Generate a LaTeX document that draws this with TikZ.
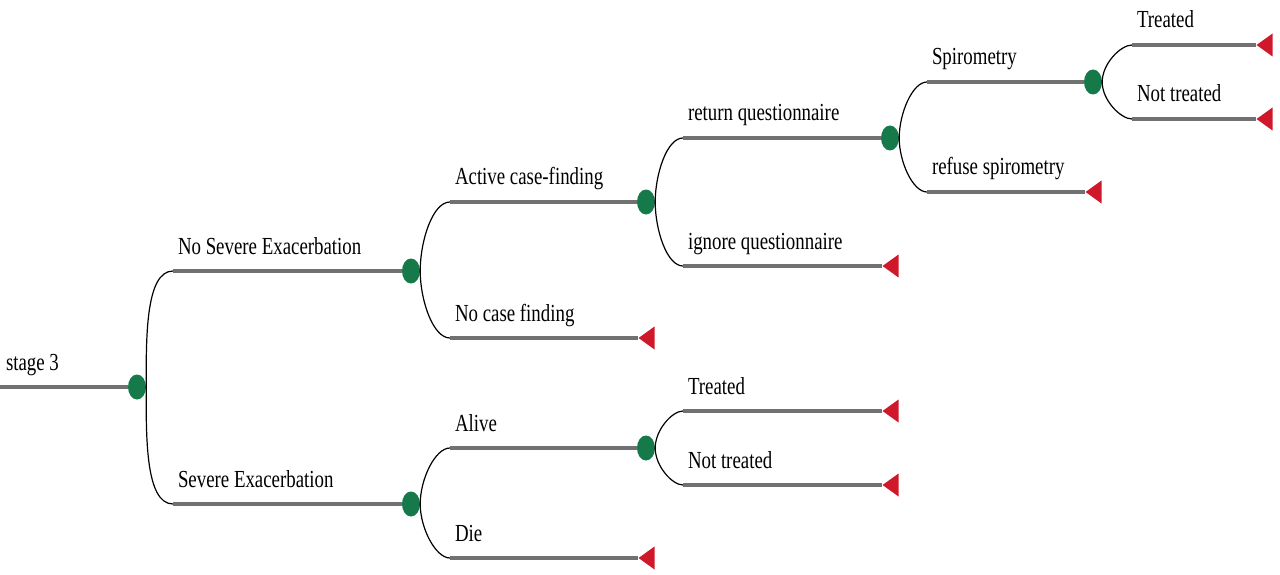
\documentclass[tikz,border=0pt]{standalone}
\usepackage{fontspec}
\setmainfont[FakeStretch=0.77]{Liberation Serif}
\usepackage{xcolor}
\definecolor{colorChance}{HTML}{15794A}
\definecolor{colorTerminal}{HTML}{D0182B}
\definecolor{colorBranch}{HTML}{717171}
\usetikzlibrary{shapes.geometric}
\tikzset{
  chance/.style={ellipse, fill=colorChance, minimum width=18pt, minimum height=25pt, inner sep=0pt},
  terminal/.style={isosceles triangle, isosceles triangle stretches, shape border rotate=180, fill=colorTerminal, minimum width=23pt, minimum height=16pt, inner sep=0pt, anchor=apex},
  branch/.style={draw=colorBranch, line width=4pt},
  split/.style={draw=black, line width=1.2pt},
  lbl/.style={pos=0, anchor=base west, xshift=3pt, yshift=17pt, font=\fontsize{24.5}{27}\selectfont, inner sep=0pt}
}

\begin{document}
\begin{tikzpicture}[x=1pt, y=1pt]
\useasboundingbox (0,0) rectangle (1280,-575);
\coordinate (in0) at (0,-387);
\node[chance] (c0) at (137,-387) {};
\node[chance] (c1) at (411,-271) {};
\node[chance] (c2) at (411,-504) {};
\node[chance] (c3) at (646,-202) {};
\node[chance] (c5) at (646,-448) {};
\node[chance] (c7) at (890,-138) {};
\node[chance] (c11) at (1093,-82) {};
\coordinate (s1) at (173,-271);
\coordinate (s2) at (173,-504);
\coordinate (s3) at (450,-202);
\coordinate (s4) at (450,-338);
\coordinate (s5) at (450,-448);
\coordinate (s6) at (450,-558);
\coordinate (s7) at (683,-138);
\coordinate (s8) at (683,-266);
\coordinate (s9) at (683,-411);
\coordinate (s10) at (683,-485);
\coordinate (s11) at (927,-82);
\coordinate (s12) at (927,-192);
\coordinate (s13) at (1132,-45);
\coordinate (s14) at (1132,-119);
\node[terminal] (t4) at (638,-338) {};
\node[terminal] (t6) at (638,-558) {};
\node[terminal] (t8) at (882,-266) {};
\node[terminal] (t9) at (882,-411) {};
\node[terminal] (t10) at (882,-485) {};
\node[terminal] (t12) at (1085,-192) {};
\node[terminal] (t13) at (1256,-45) {};
\node[terminal] (t14) at (1256,-119) {};
\draw[split] (s1) to[out=180, in=90, out looseness=0.6] (c0.east) to[out=-90, in=180, in looseness=0.6] (s2);
\draw[split] (s3) to[out=180, in=90, out looseness=0.6] (c1.east) to[out=-90, in=180, in looseness=0.6] (s4);
\draw[split] (s5) to[out=180, in=90, out looseness=0.6] (c2.east) to[out=-90, in=180, in looseness=0.6] (s6);
\draw[split] (s7) to[out=180, in=90, out looseness=0.6] (c3.east) to[out=-90, in=180, in looseness=0.6] (s8);
\draw[split] (s9) to[out=180, in=90, out looseness=0.6] (c5.east) to[out=-90, in=180, in looseness=0.6] (s10);
\draw[split] (s11) to[out=180, in=90, out looseness=0.6] (c7.east) to[out=-90, in=180, in looseness=0.6] (s12);
\draw[split] (s13) to[out=180, in=90, out looseness=0.6] (c11.east) to[out=-90, in=180, in looseness=0.6] (s14);
\draw[branch] (in0) -- node[lbl, xshift=1pt] (l0) {stage 3} (c0);
\draw[branch] (s1) -- node[lbl] (l1) {No Severe Exacerbation} (c1);
\draw[branch] (s2) -- node[lbl] (l2) {Severe Exacerbation} (c2);
\draw[branch] (s3) -- node[lbl] (l3) {Active case-finding} (c3);
\draw[branch] (s4) -- node[lbl] (l4) {No case finding} (t4.apex);
\draw[branch] (s5) -- node[lbl] (l5) {Alive} (c5);
\draw[branch] (s6) -- node[lbl] (l6) {Die} (t6.apex);
\draw[branch] (s7) -- node[lbl] (l7) {return questionnaire} (c7);
\draw[branch] (s8) -- node[lbl] (l8) {ignore questionnaire} (t8.apex);
\draw[branch] (s9) -- node[lbl] (l9) {Treated} (t9.apex);
\draw[branch] (s10) -- node[lbl] (l10) {Not treated} (t10.apex);
\draw[branch] (s11) -- node[lbl] (l11) {Spirometry} (c11);
\draw[branch] (s12) -- node[lbl] (l12) {refuse spirometry} (t12.apex);
\draw[branch] (s13) -- node[lbl] (l13) {Treated} (t13.apex);
\draw[branch] (s14) -- node[lbl] (l14) {Not treated} (t14.apex);
\end{tikzpicture}
\end{document}
